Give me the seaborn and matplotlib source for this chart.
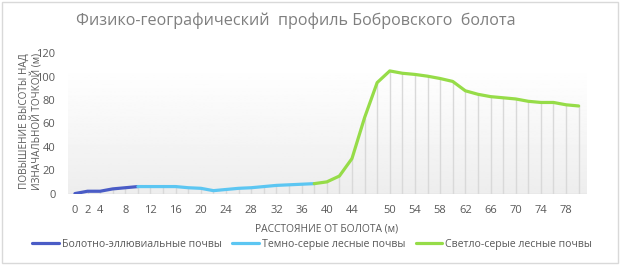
import numpy as np
import pandas as pd
import matplotlib
matplotlib.use("Agg")
import matplotlib.pyplot as plt
import seaborn as sns
from matplotlib.patches import Rectangle

# данные профиля
dist_bog = [0, 2, 4, 6, 8, 10]
h_bog = [0, 2, 2, 4, 5, 6]

dist_dark = [10, 12, 14, 16, 18, 20, 22, 24, 26, 28, 30, 32, 34, 36, 38]
h_dark = [6, 6, 6, 6, 5, 4.5, 2.5, 3.5, 4.5, 5, 6, 7, 7.5, 8, 8.5]

dist_light = [38, 40, 42, 44, 46, 48, 50, 52, 54, 56, 58, 60, 62, 64, 66,
              68, 70, 72, 74, 76, 78, 80]
h_light = [8.5, 10, 15, 30, 65, 95, 105, 103, 102, 100.5, 98.5, 96, 88, 85,
           83, 82, 81, 79, 78, 78, 76, 75]

soils = ["Болотно-эллювиальные почвы", "Темно-серые лесные почвы",
         "Светло-серые лесные почвы"]
colors = ["#4a5cc6", "#5cc6f2", "#96dc48"]

tick_vals = [0, 2, 4, 8, 12, 16, 20, 24, 28, 32, 36, 40, 44,
             50, 54, 58, 62, 66, 70, 74, 78]

df = pd.concat([
    pd.DataFrame({"dist": dist_bog, "h": h_bog, "soil": soils[0]}),
    pd.DataFrame({"dist": dist_dark, "h": h_dark, "soil": soils[1]}),
    pd.DataFrame({"dist": dist_light, "h": h_light, "soil": soils[2]}),
])

sns.set_style("white")
plt.rcParams["font.family"] = ["Open Sans", "DejaVu Sans"]

fig = plt.figure(figsize=(6.21, 2.67), dpi=100)
ax = fig.add_axes([0.1095, 0.275, 0.8355, 0.525])

# фон с градиентом
grad = np.linspace(0, 1, 100).reshape(-1, 1)
grad = np.where(grad > 0.9, 1.0, 0.93 + 0.07 * grad / 0.9)
ax.imshow(grad, cmap="gray", vmin=0, vmax=1, aspect="auto",
          extent=[-1.1, 81.3, 0, 120], origin="lower", zorder=0)

# линии проекции
allx = dist_bog + dist_dark[1:] + dist_light[1:]
ally = h_bog + h_dark[1:] + h_light[1:]
ax.vlines(allx, 0, ally, color="#d9d9d9", lw=1, zorder=1)

sns.lineplot(data=df, x="dist", y="h", hue="soil", palette=colors,
             lw=2.3, ax=ax, zorder=3, legend=False, sort=False,
             estimator=None)

ax.axhline(0, color="#d9d9d9", lw=1, zorder=2)
ax.set_xlim(-1.1, 81.3)
ax.set_ylim(0, 120)
ax.set_xticks(tick_vals)
ax.set_xticklabels([str(v) for v in tick_vals])
ax.set_yticks(range(0, 121, 20))
ax.tick_params(axis="both", length=0, labelsize=8, colors="#595959")
ax.tick_params(axis="x", pad=8)
ax.tick_params(axis="y", pad=9)
for s in ax.spines.values():
    s.set_visible(False)
ax.set_xlabel("")
ax.set_ylabel("")

fig.text(0.477, 0.922, "Физико-географический  профиль Бобровского  болота",
         ha="center", va="center", fontsize=11.6, color="#7f7f7f")
fig.text(0.050, 0.547, "ПОВЫШЕНИЕ ВЫСОТЫ НАД\nИЗНАЧАЛЬНОЙ ТОЧКОЙ (м)",
         rotation=90, ha="center", va="center", fontsize=7.2,
         color="#595959", linespacing=1.1)
fig.text(0.526, 0.142, "РАССТОЯНИЕ ОТ БОЛОТА (м)", ha="center", va="center",
         fontsize=7.4, color="#595959")

handles = [plt.Line2D([], [], color=c, lw=2.3) for c in colors]
fig.legend(handles, soils, loc="center", bbox_to_anchor=(0.503, 0.085),
           ncol=3, frameon=False, fontsize=7.6, handlelength=2.5,
           handletextpad=0.3, columnspacing=1.0, labelcolor="#595959")

fig.patches.append(Rectangle((0.003, 0.015), 0.992, 0.978, fill=False,
                             edgecolor="#d9d9d9", lw=1,
                             transform=fig.transFigure))

fig.savefig("out.png", dpi=100)
